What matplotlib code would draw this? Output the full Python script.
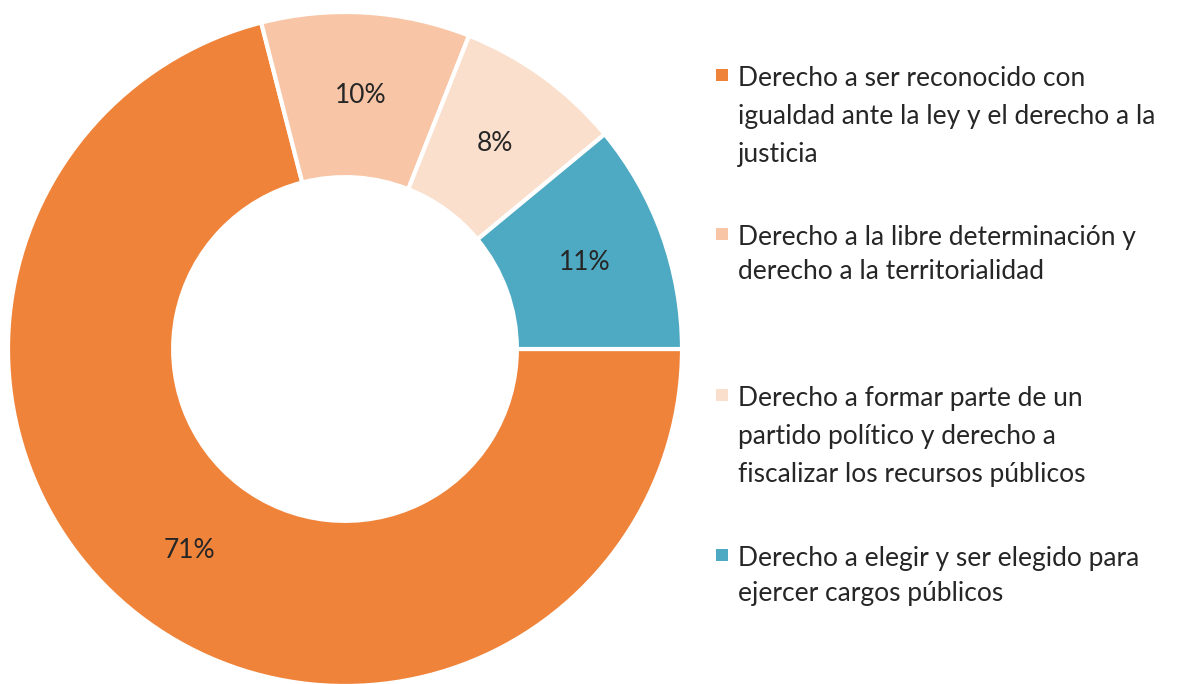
import matplotlib
matplotlib.use("Agg")
import matplotlib.pyplot as plt
from matplotlib.patches import Rectangle

categories = [
    "Derecho a ser reconocido con\nigualdad ante la ley y el derecho a la\njusticia",
    "Derecho a la libre determinación y\nderecho a la territorialidad",
    "Derecho a formar parte de un\npartido político y derecho a\nfiscalizar los recursos públicos",
    "Derecho a elegir y ser elegido para\nejercer cargos públicos",
]
values = [71, 10, 8, 11]
colors = ["#F0833A", "#F8C6A6", "#FADFCD", "#4EA9C3"]

W, H = 1184, 684
FONT = "Lato"
TXT = "#262626"
FS = 19

fig = plt.figure(figsize=(W / 100, H / 100), dpi=100)
fig.patch.set_facecolor("white")

cx, cy, R = 345, 349, 337
ax = fig.add_axes([(cx - R) / W, (H - cy - R) / H, 2 * R / W, 2 * R / H])
wedges, texts, autotexts = ax.pie(
    values, colors=colors, startangle=0, counterclock=False, radius=1,
    autopct="%d%%", pctdistance=0.755,
    wedgeprops=dict(width=0.49, edgecolor="white", linewidth=3),
    textprops=dict(fontsize=FS, color=TXT, family=FONT),
)
ax.set_xlim(-1, 1)
ax.set_ylim(-1, 1)
ax.set_aspect("equal")
ax.axis("off")

# legend, drawn manually
entry_tops = [86, 245, 406, 566]     # baseline of first line (px from top)
spacings = [38, 34, 38, 35]
for lab, col, y0, sp in zip(categories, colors, entry_tops, spacings):
    fig.patches.append(Rectangle(((716) / W, 1 - (y0 - 5) / H), 12 / W, 12 / H,
                                 transform=fig.transFigure, facecolor=col,
                                 edgecolor="none"))
    for i, line in enumerate(lab.split("\n")):
        fig.text(738 / W, 1 - (y0 + i * sp) / H, line, ha="left", va="baseline",
                 fontsize=FS, color=TXT, family=FONT)

fig.savefig("out.png", dpi=100, facecolor="white")
